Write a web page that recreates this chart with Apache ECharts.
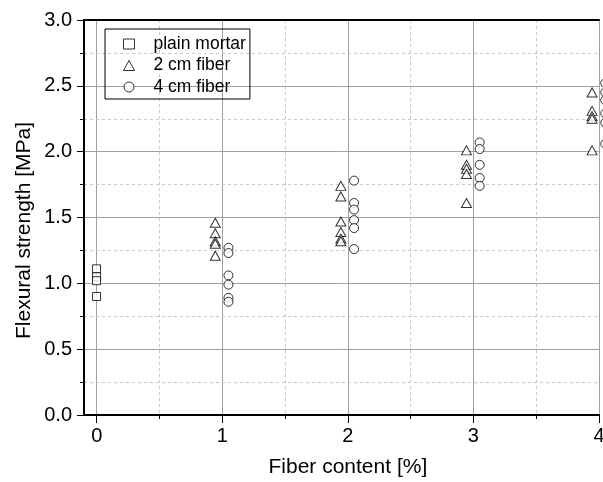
<!DOCTYPE html>
<html>
<head>
<meta charset="utf-8">
<script src="https://cdn.jsdelivr.net/npm/echarts@6/dist/echarts.min.js"></script>
<style>
  html, body { margin: 0; padding: 0; background: #fff; }
  #chart { width: 603px; height: 482px; }
</style>
</head>
<body>
<div id="chart"></div>
<script>
// values: [fiber content %, flexural strength MPa]
var plainMortar = [[0, 1.11], [0, 1.05], [0, 1.02], [0, 0.90]];
var fiber2cm = [
  [0.945, 1.46], [0.945, 1.38], [0.945, 1.32], [0.945, 1.30], [0.945, 1.21],
  [1.945, 1.74], [1.945, 1.66], [1.945, 1.47], [1.945, 1.39], [1.945, 1.34], [1.945, 1.32],
  [2.945, 2.01], [2.945, 1.90], [2.945, 1.87], [2.945, 1.83], [2.945, 1.61],
  [3.945, 2.45], [3.945, 2.31], [3.945, 2.27], [3.945, 2.25], [3.945, 2.01]
];
var fiber4cm = [
  [1.05, 1.27], [1.05, 1.23], [1.05, 1.06], [1.05, 0.99], [1.05, 0.89], [1.05, 0.86],
  [2.05, 1.78], [2.05, 1.61], [2.05, 1.56], [2.05, 1.48], [2.05, 1.42], [2.05, 1.26],
  [3.05, 2.07], [3.05, 2.02], [3.05, 1.90], [3.05, 1.80], [3.05, 1.74],
  [4.05, 2.52], [4.05, 2.45], [4.05, 2.39], [4.05, 2.29], [4.05, 2.22], [4.05, 2.06]
];
var seriesNames = ['plain mortar', '2 cm fiber', '4 cm fiber'];

var font = 'Liberation Sans, Arial, sans-serif';
var majorGrid = { show: true, lineStyle: { color: '#a0a0a0', width: 1 } };
var minorGrid = { show: true, lineStyle: { color: '#c8c8c8', width: 1, type: [3, 3] } };
var blackLine = { show: true, onZero: false, lineStyle: { color: '#000', width: 2 } };
var hollow = { color: '#fff', borderColor: '#000', borderWidth: 1 };

var myChart = echarts.init(document.getElementById('chart'));
var option = {
  animation: false,
  backgroundColor: '#fff',
  grid: [
    { left: 84, right: 4, top: 20, bottom: 67, outerBoundsMode: 'none' },
    // shifted grid so the x ticks sit on whole numbers while the frame starts at -0.1
    { left: 96.7, right: 4, top: 20, bottom: 67, outerBoundsMode: 'none' }
  ],
  legend: {
    data: seriesNames,
    orient: 'vertical',
    left: 105,
    top: 29,
    padding: [6, 4, 3, 18],
    itemGap: 3.5,
    itemWidth: 11,
    itemHeight: 10,
    borderColor: '#000',
    borderWidth: 1,
    borderRadius: 0,
    itemStyle: { borderWidth: 1 },
    textStyle: { color: '#000', fontSize: 17.5, fontFamily: font, padding: [0, 0, 0, 14] }
  },
  xAxis: [
    {
      gridIndex: 0, type: 'value', min: -0.1, max: 4, z: 4,
      axisLine: blackLine,
      axisTick: { show: false }, axisLabel: { show: false }, splitLine: { show: false }
    },
    {
      gridIndex: 1, type: 'value', min: 0, max: 4, interval: 1, z: 2,
      name: 'Fiber content [%]',
      nameLocation: 'middle',
      nameGap: 42,
      nameMoveOverlap: false,
      nameTextStyle: { color: '#000', fontSize: 21, fontFamily: font },
      axisLine: { show: false, onZero: false },
      axisTick: { show: true, inside: false, length: 8, lineStyle: { color: '#000', width: 1 } },
      minorTick: { show: true, splitNumber: 2, length: 4, lineStyle: { color: '#000', width: 1 } },
      axisLabel: { color: '#000', fontSize: 20, fontFamily: font, margin: 11 },
      splitLine: majorGrid,
      minorSplitLine: minorGrid
    },
    {
      gridIndex: 0, type: 'value', position: 'top', min: -0.1, max: 4, z: 4,
      axisLine: blackLine,
      axisTick: { show: false }, axisLabel: { show: false }, splitLine: { show: false }
    }
  ],
  yAxis: [
    {
      gridIndex: 0, type: 'value', min: 0, max: 3, interval: 0.5, z: 3,
      name: 'Flexural strength [MPa]',
      nameLocation: 'middle',
      nameGap: 49,
      nameMoveOverlap: false,
      nameTextStyle: { color: '#000', fontSize: 21, fontFamily: font, padding: [0, 26, 0, 0] },
      axisLine: blackLine,
      axisTick: { show: true, inside: false, length: 7, lineStyle: { color: '#000', width: 1 } },
      minorTick: { show: true, splitNumber: 2, length: 4, lineStyle: { color: '#000', width: 1 } },
      axisLabel: {
        color: '#000', fontSize: 20, fontFamily: font, margin: 12,
        formatter: function (v) { return v.toFixed(1); }
      },
      splitLine: majorGrid,
      minorSplitLine: minorGrid
    },
    { gridIndex: 1, type: 'value', min: 0, max: 3, show: false }
  ],
  series: [
    {
      name: seriesNames[0], type: 'scatter', xAxisIndex: 0, yAxisIndex: 0,
      data: plainMortar, symbol: 'rect', symbolSize: 8, itemStyle: hollow, clip: false, z: 10
    },
    {
      name: seriesNames[1], type: 'scatter', xAxisIndex: 0, yAxisIndex: 0,
      data: fiber2cm, symbol: 'triangle', symbolSize: [10, 9], itemStyle: hollow, clip: false, z: 10
    },
    {
      name: seriesNames[2], type: 'scatter', xAxisIndex: 0, yAxisIndex: 0,
      data: fiber4cm, symbol: 'circle', symbolSize: 9, itemStyle: hollow, clip: false, z: 10
    }
  ]
};
myChart.setOption(option, true);
</script>
</body>
</html>
